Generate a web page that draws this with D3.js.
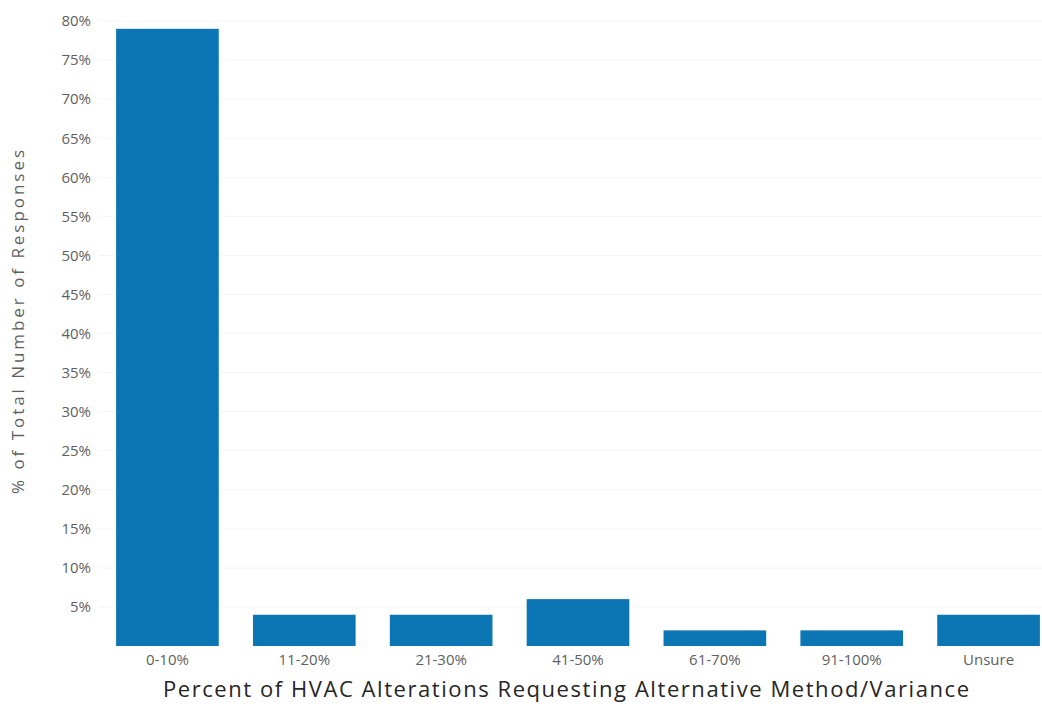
<!DOCTYPE html>
<html><head><meta charset="utf-8">
<script src="https://cdn.jsdelivr.net/npm/d3@7"></script>
<style>body{margin:0;background:#fff;} text{font-family:"Open Sans","DejaVu Sans",sans-serif;}</style>
</head><body>
<svg id="c" width="1042" height="719"></svg>
<script>
const categories = ["0-10%","11-20%","21-30%","41-50%","61-70%","91-100%","Unsure"];
const values = [79, 4, 4, 6, 2, 2, 4];
const yTicks = [5,10,15,20,25,30,35,40,45,50,55,60,65,70,75,80];
const xTitle = "Percent of HVAC Alterations Requesting Alternative Method/Variance";
const yTitle = "% of Total Number of Responses";

const svg = d3.select("#c");
const x = d3.scaleBand().domain(categories).range([99, 1057]).paddingInner(0.25).paddingOuter(0.125);
const y = d3.scaleLinear().domain([0, 80]).range([646, 21]);

// gridlines
svg.append("g").selectAll("line").data(yTicks).join("line")
  .attr("x1", 99).attr("x2", 1042)
  .attr("y1", d => y(d)).attr("y2", d => y(d))
  .attr("stroke", "#f5f5f5").attr("stroke-width", 1);

// bars
svg.append("g").selectAll("rect").data(values).join("rect")
  .attr("x", (d,i) => x(categories[i]))
  .attr("width", x.bandwidth())
  .attr("y", d => y(d))
  .attr("height", d => y(0) - y(d))
  .attr("fill", "#0b76b3");

// y axis
const ya = svg.append("g").attr("transform", "translate(91,0)")
  .call(d3.axisLeft(y).tickValues(yTicks).tickFormat(d => d + "%").tickSize(0).tickPadding(0));
ya.select(".domain").remove();
ya.selectAll("text").attr("fill", "#5f5f5f").style("font-size", "15px");

// x axis
const xa = svg.append("g").attr("transform", "translate(0,653)")
  .call(d3.axisBottom(x).tickSize(0).tickPadding(0));
xa.select(".domain").remove();
xa.selectAll("text").attr("fill", "#5f5f5f").style("font-size", "15px").attr("dy", "0.8em");

svg.append("text").attr("x", 566).attr("y", 697).attr("text-anchor", "middle")
  .attr("fill", "#262626").style("font-size", "22px")
  .attr("textLength", 806).attr("lengthAdjust", "spacing").text(xTitle);
svg.append("text").attr("transform", "translate(24,322) rotate(-90)").attr("text-anchor", "middle")
  .attr("fill", "#5f5f5f").style("font-size", "17px")
  .attr("textLength", 344).attr("lengthAdjust", "spacing").text(yTitle);
</script>
</body></html>
